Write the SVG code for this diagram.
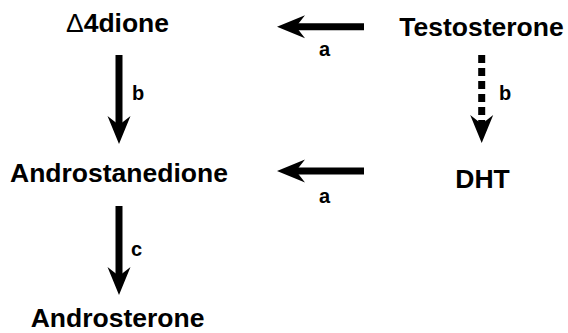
<svg xmlns="http://www.w3.org/2000/svg" width="568" height="333" viewBox="0 0 568 333">
<style>
.node{font-family:"Liberation Sans",Arial,Helvetica,sans-serif;font-weight:bold;font-size:26.5px;fill:#000;text-anchor:middle}
.lbl{font-family:"Liberation Sans",Arial,Helvetica,sans-serif;font-weight:bold;font-size:20px;fill:#000}
.arr{stroke:#000;stroke-width:7;fill:none;marker-end:url(#head)}
.dash{stroke-dasharray:8 5}
</style>
<defs>
<marker id="head" markerUnits="userSpaceOnUse" markerWidth="30" markerHeight="26" viewBox="0 -13 30 26" refX="9" refY="0" orient="auto">
<path d="M0,-11.5 L28,0 L0,11.5 L9,0 Z" fill="#000"/>
</marker>
</defs>
<rect width="568" height="333" fill="#fff"/>
<g id="connectors">
<line class="arr" x1="119" y1="55" x2="119" y2="125"/>
<line class="arr" x1="364" y1="26.7" x2="296" y2="26.7"/>
<line class="arr dash" x1="481.7" y1="55" x2="481.7" y2="124"/>
<line class="arr" x1="364" y1="171" x2="296" y2="171"/>
<line class="arr" x1="119" y1="206" x2="119" y2="276"/>
<text class="lbl" x="319" y="56">a</text>
<text class="lbl" x="132" y="100">b</text>
<text class="lbl" x="499" y="100">b</text>
<text class="lbl" x="319" y="203">a</text>
<text class="lbl" x="131" y="256">c</text>
</g>
<g id="n-d4dione"><text class="node" x="117.5" y="32"><tspan font-weight="normal">Δ</tspan>4dione</text></g>
<g id="n-testosterone"><text class="node" x="481.5" y="35.5">Testosterone</text></g>
<g id="n-androstanedione"><text class="node" x="119" y="182">Androstanedione</text></g>
<g id="n-dht"><text class="node" x="482.5" y="187.5">DHT</text></g>
<g id="n-androsterone"><text class="node" x="117.5" y="327">Androsterone</text></g>
</svg>
